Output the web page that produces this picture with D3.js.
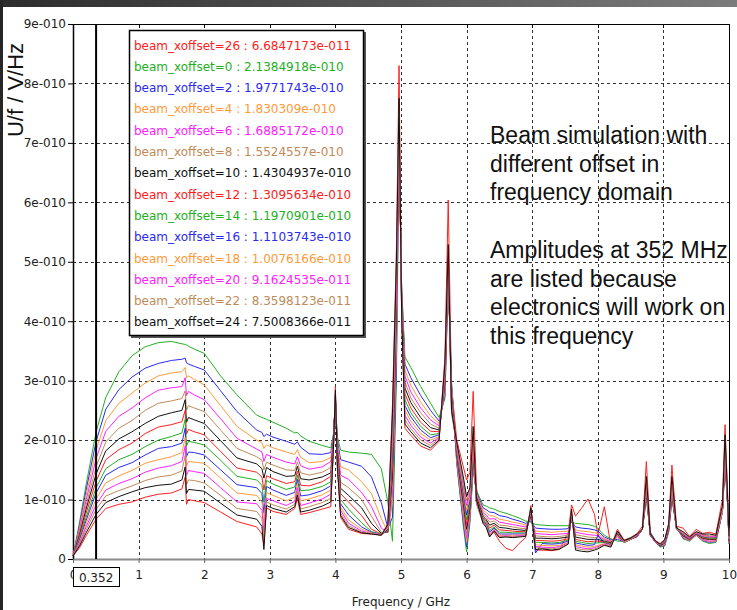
<!DOCTYPE html>
<html>
<head>
<meta charset="utf-8">
<script src="https://cdn.jsdelivr.net/npm/d3@7"></script>
<style>
  body { margin: 0; background: #fff; }
  svg { display: block; }
</style>
</head>
<body>
<div class="chart"></div>
<script>
const width = 737;
const height = 610;

// frequency in GHz, amplitudes in units of 1e-10 V/Hz
const freq = [0, 0.1, 0.2, 0.352, 0.5, 0.7, 0.9, 1.1, 1.3, 1.5, 1.66, 1.71, 1.73, 1.76, 1.85, 2.0, 2.25, 2.5, 2.8, 2.88,
  2.91, 2.95, 3.05, 3.25, 3.38, 3.42, 3.47, 3.6, 3.8, 3.93, 3.97, 4.0, 4.03, 4.08, 4.2, 4.4, 4.55, 4.7, 4.8, 4.87,
  4.93, 4.97, 5.01, 5.06, 5.15, 5.3, 5.45, 5.58, 5.67, 5.72, 5.77, 5.85, 5.95, 6.0, 6.05, 6.1, 6.15,
  6.25, 6.3, 6.35, 6.42, 6.5, 6.6, 6.7, 6.8, 6.9, 6.98, 7.05, 7.15, 7.3, 7.42, 7.55, 7.6, 7.66, 7.75, 7.85, 7.95,
  8.0, 8.1, 8.2, 8.3, 8.4, 8.5, 8.6, 8.68, 8.74, 8.8, 8.88, 8.95, 9.02, 9.08, 9.13, 9.2, 9.3, 9.4, 9.5, 9.6,
  9.7, 9.8, 9.9, 9.94, 9.98, 10.0];

const off0 = [.05, .62, 1.25, 2.138, 2.72, 3.15, 3.42, 3.57, 3.64, 3.66, 3.62, 3.61, 3.60, 3.58, 3.53, 3.46, 3.08, 2.76, 2.42, 2.38,
  2.37, 2.35, 2.30, 2.20, 2.12, 2.13, 2.07, 1.98, 1.91, 1.87, 2.10, 2.62, 2.05, 1.83, 1.80, 1.78, 1.76, 1.52, .95, .30,
  3.0, 6.9, 4.6, 3.40, 3.22, 2.90, 2.62, 2.38, 2.70, 4.70, 3.00, 1.60, .55, .12, .60, 1.50, 1.15,
  .91, .89, .86, .84, .80, .77, .73, .69, .64, .62, .58, .57, .56, .56, .56, .62, .60, .59, .58, .55,
  .52, .40, .34, .30, .30, .36, .40, .50, 1.00, .45, .30, .20, .22, .45, 1.00, .55, .34, .30, .40, .30,
  .26, .28, .8, 1.55, .9, .25];
const off2 = [.05, .57, 1.16, 1.977, 2.52, 2.85, 3.06, 3.21, 3.29, 3.34, 3.36, 3.38, 3.30, 3.28, 3.24, 3.18, 2.83, 2.48, 2.17, 2.13,
  2.06, 2.10, 2.05, 1.98, 1.93, 1.97, 1.88, 1.77, 1.76, 1.79, 2.08, 2.64, 2.00, 1.67, 1.63, 1.56, 1.38, .95, .52, .70,
  3.3, 7.0, 4.55, 3.28, 3.05, 2.75, 2.50, 2.32, 2.75, 4.75, 2.95, 1.63, .62, .20, .65, 1.55, 1.12,
  .86, .83, .79, .78, .73, .71, .67, .64, .60, .64, .52, .51, .50, .50, .51, .64, .54, .52, .51, .49,
  .47, .37, .32, .33, .29, .35, .39, .50, 1.05, .44, .30, .21, .23, .46, 1.02, .54, .35, .31, .40, .31,
  .28, .29, .8, 1.60, .9, .26];
const off4 = [.05, .53, 1.07, 1.830, 2.33, 2.62, 2.79, 2.96, 3.08, 3.13, 3.15, 3.22, 3.05, 3.08, 3.02, 2.93, 2.58, 2.23, 2.00, 1.96,
  1.86, 1.92, 1.87, 1.80, 1.76, 1.84, 1.71, 1.62, 1.64, 1.71, 2.05, 2.66, 1.95, 1.55, 1.50, 1.30, 1.10, .68, .45, .95,
  3.6, 7.05, 4.5, 3.18, 2.92, 2.64, 2.41, 2.28, 2.80, 4.80, 2.90, 1.66, .70, .28, .70, 1.60, 1.10,
  .82, .78, .73, .72, .67, .65, .62, .60, .57, .66, .47, .46, .45, .46, .47, .66, .49, .47, .46, .44,
  .43, .35, .30, .36, .29, .34, .38, .50, 1.08, .43, .29, .21, .24, .47, 1.04, .53, .36, .31, .40, .32,
  .29, .30, .8, 1.65, .9, .27];
const off6 = [.05, .49, .99, 1.689, 2.15, 2.40, 2.54, 2.71, 2.84, 2.88, 2.90, 3.05, 2.75, 2.82, 2.76, 2.68, 2.36, 2.03, 1.85, 1.80,
  1.64, 1.76, 1.71, 1.63, 1.60, 1.72, 1.57, 1.51, 1.55, 1.64, 2.02, 2.68, 1.90, 1.41, 1.34, 1.12, .88, .52, .44, 1.10,
  3.8, 7.1, 4.45, 3.08, 2.81, 2.54, 2.34, 2.24, 2.85, 4.85, 2.85, 1.69, .78, .35, .75, 1.65, 1.08,
  .78, .74, .67, .68, .62, .60, .58, .56, .54, .68, .43, .42, .41, .42, .43, .68, .45, .43, .41, .40,
  .39, .33, .29, .38, .28, .34, .38, .50, 1.10, .42, .29, .22, .25, .48, 1.06, .52, .37, .32, .41, .33,
  .30, .31, .8, 1.70, .9, .28];
const off8 = [.05, .45, .91, 1.552, 1.97, 2.20, 2.33, 2.50, 2.62, 2.66, 2.70, 2.83, 2.50, 2.58, 2.54, 2.48, 2.17, 1.86, 1.72, 1.66,
  1.50, 1.63, 1.58, 1.50, 1.49, 1.63, 1.45, 1.41, 1.46, 1.54, 2.00, 2.70, 1.86, 1.29, 1.20, 1.00, .72, .45, .45, 1.25,
  4.0, 7.15, 4.4, 2.98, 2.71, 2.46, 2.27, 2.20, 2.90, 4.90, 2.80, 1.72, .86, .42, .80, 1.70, 1.06,
  .75, .70, .62, .64, .57, .56, .54, .52, .51, .70, .39, .38, .37, .38, .40, .70, .41, .39, .37, .36,
  .36, .32, .28, .40, .28, .33, .38, .50, 1.12, .41, .28, .22, .26, .49, 1.08, .51, .38, .32, .41, .34,
  .32, .32, .8, 1.72, .9, .29];
const off10 = [.05, .41, .84, 1.430, 1.82, 2.02, 2.14, 2.28, 2.40, 2.46, 2.50, 2.68, 2.30, 2.38, 2.34, 2.28, 1.99, 1.70, 1.60, 1.52,
  1.36, 1.54, 1.47, 1.39, 1.40, 1.56, 1.35, 1.33, 1.38, 1.45, 1.98, 2.71, 1.82, 1.19, 1.07, .86, .60, .43, .46, 1.40,
  4.2, 7.2, 4.35, 2.88, 2.63, 2.38, 2.21, 2.17, 2.95, 4.95, 2.75, 1.75, .93, .50, .85, 1.75, 1.04,
  .72, .66, .57, .60, .53, .52, .50, .49, .48, .72, .35, .35, .34, .35, .37, .71, .37, .35, .33, .33,
  .33, .30, .27, .42, .28, .33, .38, .50, 1.14, .40, .28, .22, .27, .50, 1.10, .50, .39, .33, .42, .35,
  .33, .33, .8, 1.75, .9, .30];
const off12 = [.05, .38, .77, 1.310, 1.67, 1.84, 1.95, 2.11, 2.22, 2.26, 2.31, 2.50, 2.10, 2.18, 2.14, 2.09, 1.81, 1.53, 1.46, 1.38,
  1.16, 1.40, 1.35, 1.27, 1.30, 1.48, 1.24, 1.23, 1.30, 1.39, 1.96, 2.72, 1.78, 1.10, .96, .73, .50, .42, .47, 1.55,
  4.4, 7.25, 4.3, 2.78, 2.54, 2.30, 2.15, 2.14, 3.00, 5.00, 2.70, 1.78, 1.00, .58, .90, 1.80, 1.02,
  .69, .63, .52, .57, .49, .48, .47, .46, .46, .74, .31, .31, .30, .31, .34, .72, .33, .31, .29, .30,
  .30, .29, .26, .43, .28, .33, .38, .50, 1.16, .40, .28, .23, .28, .51, 1.12, .50, .40, .33, .42, .36,
  .34, .34, .8, 1.78, .9, .31];
const off14 = [.05, .35, .70, 1.197, 1.52, 1.67, 1.76, 1.89, 2.00, 2.06, 2.12, 2.35, 1.90, 1.98, 1.96, 1.92, 1.66, 1.39, 1.33, 1.24,
  .96, 1.32, 1.26, 1.17, 1.21, 1.41, 1.15, 1.16, 1.22, 1.30, 1.94, 2.74, 1.74, 1.00, .84, .61, .46, .42, .48, 1.70,
  4.5, 7.3, 4.25, 2.68, 2.46, 2.23, 2.09, 2.11, 3.05, 5.00, 2.65, 1.81, 1.07, .66, .95, 1.85, 1.00,
  .67, .60, .48, .54, .45, .45, .44, .44, .44, .76, .28, .28, .27, .28, .32, .73, .30, .28, .26, .27,
  .27, .28, .25, .44, .28, .33, .39, .50, 1.18, .40, .28, .23, .28, .52, 1.14, .50, .41, .34, .43, .37,
  .35, .35, .8, 1.80, .9, .32];
const off16 = [.05, .32, .65, 1.110, 1.41, 1.54, 1.62, 1.75, 1.86, 1.89, 1.95, 2.20, 1.72, 1.80, 1.79, 1.75, 1.50, 1.25, 1.20, 1.10,
  .77, 1.22, 1.16, 1.07, 1.12, 1.34, 1.06, 1.08, 1.15, 1.23, 1.92, 2.76, 1.70, .93, .74, .54, .45, .41, .50, 1.85,
  4.6, 7.35, 4.2, 2.58, 2.39, 2.17, 2.04, 2.09, 3.10, 5.05, 2.60, 1.84, 1.13, .74, 1.00, 1.90, .98,
  .65, .58, .45, .52, .42, .42, .42, .42, .42, .78, .10, .26, .25, .26, .30, .74, .27, .25, .23, .24,
  .40, .27, .24, .45, .29, .33, .39, .50, 1.20, .40, .28, .23, .29, .53, 1.16, .50, .42, .34, .43, .38,
  .36, .36, .8, 1.82, .9, .33];
const off18 = [.05, .29, .59, 1.008, 1.28, 1.40, 1.49, 1.61, 1.67, 1.72, 1.79, 2.05, 1.56, 1.64, 1.63, 1.61, 1.36, 1.11, 1.07, .96,
  .60, 1.12, 1.07, .98, 1.04, 1.27, .98, 1.01, 1.08, 1.16, 1.90, 2.77, 1.66, .87, .66, .50, .44, .41, .52, 2.00,
  4.7, 7.4, 4.15, 2.50, 2.32, 2.11, 2.00, 2.06, 3.15, 5.05, 2.55, 1.87, 1.19, .82, 1.05, 1.95, .96,
  .63, .56, .42, .50, .40, .40, .40, .40, .41, .80, .24, .23, .22, .23, .28, .75, .24, .22, .20, .21,
  .23, .26, .23, .46, .29, .33, .40, .50, 1.22, .40, .28, .24, .30, .54, 1.18, .50, .43, .35, .44, .39,
  .37, .37, .8, 1.85, .9, .34];
const off20 = [.05, .27, .54, .916, 1.16, 1.27, 1.35, 1.46, 1.53, 1.57, 1.64, 1.90, 1.40, 1.49, 1.47, 1.44, 1.20, .96, .93, .82,
  .46, 1.02, .98, .90, .97, 1.20, .90, .94, 1.01, 1.09, 1.88, 2.78, 1.62, .82, .60, .47, .43, .41, .54, 2.15,
  4.8, 7.45, 4.1, 2.42, 2.25, 2.05, 1.95, 2.04, 3.20, 5.10, 2.50, 1.90, 1.25, .90, 1.10, 2.00, .94,
  .62, .55, .40, .49, .38, .39, .38, .39, .40, .82, .21, .20, .19, .21, .27, .76, .21, .19, .17, .19,
  .21, .25, .22, .46, .30, .34, .40, .50, 1.25, .40, .28, .24, .30, .55, 1.20, .50, .44, .35, .44, .40,
  .38, .38, .8, 1.88, .9, .35];
const off22 = [.05, .24, .49, .836, 1.06, 1.15, 1.23, 1.32, 1.38, 1.41, 1.48, 1.74, 1.25, 1.33, 1.32, 1.28, 1.07, .85, .80, .68,
  .34, .96, .91, .84, .92, 1.14, .84, .88, .95, 1.02, 1.86, 2.80, 1.58, .77, .56, .45, .43, .40, .56, 2.30,
  4.9, 7.5, 4.05, 2.34, 2.19, 2.00, 1.91, 2.02, 3.25, 5.10, 2.45, 1.93, 1.30, .98, 1.15, 2.05, .92,
  .61, .54, .38, .48, .37, .38, .37, .38, .39, .84, .19, .18, .17, .19, .26, .78, .18, .16, .15, .17,
  .19, .24, .21, .47, .30, .34, .41, .50, 1.28, .40, .29, .24, .31, .56, 1.22, .50, .45, .36, .45, .41,
  .39, .39, .8, 1.92, .9, .36];
const off24 = [.05, .22, .44, .750, .95, 1.05, 1.13, 1.20, 1.24, 1.26, 1.33, 1.55, 1.10, 1.17, 1.16, 1.14, .94, .74, .67, .55,
  .16, .90, .85, .79, .88, 1.08, .79, .82, .89, .96, 1.85, 2.84, 1.55, .73, .53, .44, .42, .40, .58, 2.45,
  5.0, 7.75, 4.1, 2.27, 2.14, 1.95, 1.87, 2.00, 3.30, 5.29, 2.50, 1.96, 1.38, 1.05, 1.20, 2.23, 1.00,
  .60, .53, .37, .47, .36, .37, .36, .37, .38, .86, .16, .17, .15, .17, .25, .84, .15, .13, .12, .15,
  .17, .23, .20, .47, .31, .35, .42, .50, 1.39, .42, .30, .25, .32, .58, 1.39, .52, .46, .37, .46, .42,
  .42, .40, .9, 2.09, 1.0, .38];
const off26 = [.05, .19, .39, .668, .85, .92, .96, 1.04, 1.09, 1.11, 1.18, 1.38, .92, 1.00, .98, .95, .79, .63, .54, .42,
  .24, .86, .80, .75, .85, 1.02, .75, .78, .84, .88, 1.84, 2.90, 1.52, .70, .50, .43, .42, .40, .60, 2.60,
  5.2, 8.3, 4.3, 2.20, 2.08, 1.90, 1.83, 1.98, 3.40, 6.04, 2.90, 2.00, 1.55, 1.33, 1.45, 2.82, 1.20,
  .62, .55, .40, .45, .30, .18, .14, .26, .36, .90, .15, .15, .14, .16, .45, .91, .72, .85, 1.01, .75,
  .40, .88, .22, .50, .32, .36, .43, .55, 1.64, .45, .31, .26, .33, .60, 1.58, .55, .52, .38, .50, .43,
  .45, .42, 1.0, 2.26, 1.1, .40];

// legend order as in the reference
const seriesNames = ["beam_xoffset=26", "beam_xoffset=0", "beam_xoffset=2", "beam_xoffset=4", "beam_xoffset=6",
  "beam_xoffset=8", "beam_xoffset=10", "beam_xoffset=12", "beam_xoffset=14", "beam_xoffset=16", "beam_xoffset=18",
  "beam_xoffset=20", "beam_xoffset=22", "beam_xoffset=24"];
const amplitudes352 = ["6.6847173e-011", "2.1384918e-010", "1.9771743e-010", "1.830309e-010", "1.6885172e-010",
  "1.5524557e-010", "1.4304937e-010", "1.3095634e-010", "1.1970901e-010", "1.1103743e-010", "1.0076166e-010",
  "9.1624535e-011", "8.3598123e-011", "7.5008366e-011"];
const seriesValues = [off26, off0, off2, off4, off6, off8, off10, off12, off14, off16, off18, off20, off22, off24];
const seriesColors = ["#ff2020", "#22b022", "#2a2af0", "#ff9a3a", "#ff20ff", "#c08a58", "#111111",
  "#ff2020", "#22b022", "#2a2af0", "#ff9a3a", "#ff20ff", "#c08a58", "#111111"];

const xTicks = [0, 1, 2, 3, 4, 5, 6, 7, 8, 9, 10];
const yTicks = [0, 1, 2, 3, 4, 5, 6, 7, 8, 9];
const marker = 0.352;

const noteLines = ["Beam simulation with", "different offset in", "frequency domain", "",
  "Amplitudes at 352 MHz", "are listed because", "electronics will work on", "this frequency"];

seriesValues.forEach((v, i) => {
  if (v.length !== freq.length) throw new Error(seriesNames[i] + " has " + v.length + " values, freq " + freq.length);
});

const margin = { left: 73, right: 729, top: 24, bottom: 559 };

const x = d3.scaleLinear().domain([0, 10]).range([margin.left, margin.right]);
const y = d3.scaleLinear().domain([0, 9]).range([margin.bottom, margin.top]);

const svg = d3.select(".chart")
  .append("svg")
  .attr("width", width)
  .attr("height", height);

// window frame look
const grad = svg.append("defs").append("linearGradient").attr("id", "topbar");
grad.append("stop").attr("offset", "0%").attr("stop-color", "#2c2c2c");
grad.append("stop").attr("offset", "100%").attr("stop-color", "#7c7c7c");
svg.append("rect").attr("width", width).attr("height", height).attr("fill", "#fff");
svg.append("rect").attr("width", width).attr("height", 7).attr("fill", "url(#topbar)");
svg.append("rect").attr("width", 3).attr("height", height).attr("fill", "#262626");

// grid
const grid = svg.append("g")
  .attr("stroke", "#333")
  .attr("stroke-width", 1)
  .attr("stroke-dasharray", "3,3");
grid.selectAll(".gx")
  .data(xTicks.filter(d => d > 0 && d < 10))
  .join("line")
  .attr("x1", d => Math.round(x(d)) + 0.5).attr("x2", d => Math.round(x(d)) + 0.5)
  .attr("y1", margin.top).attr("y2", margin.bottom);
grid.selectAll(".gy")
  .data(yTicks.filter(d => d > 0 && d < 9))
  .join("line")
  .attr("y1", d => Math.round(y(d)) + 0.5).attr("y2", d => Math.round(y(d)) + 0.5)
  .attr("x1", margin.left).attr("x2", margin.right);

// axes
const yAxis = svg.append("g")
  .attr("transform", `translate(${margin.left},0)`)
  .call(d3.axisLeft(y).tickValues(yTicks).tickSize(5).tickSizeOuter(0)
    .tickFormat(d => d === 0 ? "0" : d + "e-010"));
yAxis.selectAll("text")
  .attr("font-family", "DejaVu Sans")
  .attr("font-size", 12)
  .attr("fill", "#222")
  .attr("x", -7);

const xAxis = svg.append("g")
  .attr("transform", `translate(0,${margin.bottom})`)
  .call(d3.axisBottom(x).tickValues(xTicks).tickSize(4).tickSizeOuter(0));
xAxis.selectAll("text")
  .attr("font-family", "DejaVu Sans")
  .attr("font-size", 12)
  .attr("fill", "#222")
  .attr("y", 11);
xAxis.select(".domain").attr("stroke", "#8a8a8a").attr("stroke-width", 2);
xAxis.selectAll(".tick line").attr("stroke", "#666");
yAxis.select(".domain").attr("stroke", "#000").attr("stroke-width", 1.5);

// top and right frame with small ticks
svg.append("line")
  .attr("x1", margin.left).attr("x2", margin.right)
  .attr("y1", margin.top + 0.5).attr("y2", margin.top + 0.5)
  .attr("stroke", "#000");
svg.append("line")
  .attr("x1", margin.right + 0.5).attr("x2", margin.right + 0.5)
  .attr("y1", margin.top).attr("y2", margin.bottom)
  .attr("stroke", "#000");
svg.append("g").selectAll("line")
  .data(xTicks)
  .join("line")
  .attr("x1", d => Math.round(x(d)) + 0.5).attr("x2", d => Math.round(x(d)) + 0.5)
  .attr("y1", margin.top).attr("y2", margin.top + 4)
  .attr("stroke", "#000");

// curves
const line = d3.line()
  .x((d, i) => x(freq[i]))
  .y(d => y(d));

svg.append("g")
  .attr("fill", "none")
  .attr("stroke-width", 1)
  .attr("stroke-linejoin", "round")
  .selectAll("path")
  .data(seriesValues)
  .join("path")
  .attr("stroke", (d, i) => seriesColors[i])
  .attr("d", d => line(d));

// 352 MHz marker
svg.append("line")
  .attr("x1", x(marker)).attr("x2", x(marker))
  .attr("y1", margin.top).attr("y2", margin.bottom)
  .attr("stroke", "#000")
  .attr("stroke-width", 2);

const markerBox = svg.append("g");
markerBox.append("rect")
  .attr("x", margin.left + 0.5).attr("y", 567.5)
  .attr("width", 46).attr("height", 19)
  .attr("fill", "#fff").attr("stroke", "#000");
markerBox.append("text")
  .attr("x", x(marker)).attr("y", 581.5)
  .attr("text-anchor", "middle")
  .attr("font-family", "DejaVu Sans")
  .attr("font-size", 12)
  .attr("fill", "#222")
  .text(marker);

// axis titles
svg.append("text")
  .attr("x", (margin.left + margin.right) / 2)
  .attr("y", 606)
  .attr("text-anchor", "middle")
  .attr("font-family", "DejaVu Sans")
  .attr("font-size", 12)
  .attr("fill", "#222")
  .text("Frequency / GHz");

svg.append("text")
  .attr("transform", "translate(23,90) rotate(-90)")
  .attr("text-anchor", "middle")
  .attr("font-family", "Liberation Sans")
  .attr("font-size", 22)
  .attr("fill", "#111")
  .text("U/f / V/Hz");

// legend
const legend = svg.append("g");
legend.append("rect")
  .attr("x", 131).attr("y", 32)
  .attr("width", 235).attr("height", 306)
  .attr("fill", "#555");
legend.append("rect")
  .attr("x", 129.5).attr("y", 30.5)
  .attr("width", 234).attr("height", 305)
  .attr("fill", "#fff").attr("stroke", "#000").attr("stroke-width", 1.5);
legend.selectAll("text")
  .data(seriesNames)
  .join("text")
  .attr("x", 134)
  .attr("y", (d, i) => 49.5 + i * 21.3)
  .attr("font-family", "DejaVu Sans")
  .attr("font-size", 12)
  .attr("fill", (d, i) => seriesColors[i])
  .text((d, i) => d + " : " + amplitudes352[i]);

// annotation
svg.append("g")
  .selectAll("text")
  .data(noteLines)
  .join("text")
  .attr("x", 490)
  .attr("y", (d, i) => 143 + i * 28.7)
  .attr("font-family", "Liberation Sans")
  .attr("font-size", 23)
  .attr("fill", "#111")
  .text(d => d);
</script>
</body>
</html>
